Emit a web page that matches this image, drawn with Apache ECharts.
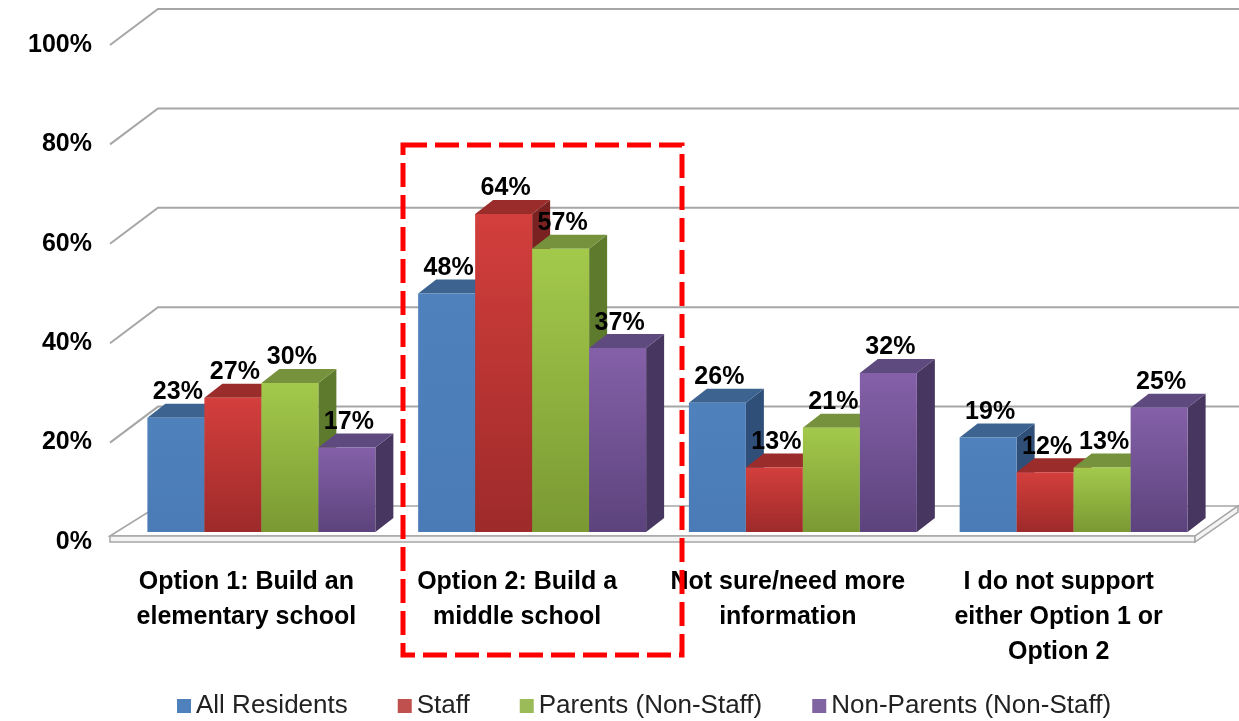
<!DOCTYPE html>
<html>
<head>
<meta charset="utf-8">
<script src="https://cdn.jsdelivr.net/npm/echarts@6/dist/echarts.min.js"></script>
<style>
  html, body { margin: 0; padding: 0; background: #fff; }
  #chart { width: 1239px; height: 721px; }
</style>
</head>
<body>
<div id="chart"></div>
<script>
// categories and values (percent)
const categories = [
  "Option 1: Build an\nelementary school",
  "Option 2: Build a\nmiddle school",
  "Not sure/need more\ninformation",
  "I do not support\neither Option 1 or\nOption 2"
]
const seriesNames = ["All Residents", "Staff", "Parents (Non-Staff)", "Non-Parents (Non-Staff)"]
const allResidents = [23, 48, 26, 19]
const staff = [27, 64, 13, 12]
const parents = [30, 57, 21, 13]
const nonParents = [17, 37, 32, 25]
const yTicks = [0, 20, 40, 60, 80, 100]

const seriesValues = [allResidents, staff, parents, nonParents]

// front / top / side colours per series
const palette = [
  { front: ["#4F81BD", "#4A7BB7"], top: "#3D6490", side: "#2F4F78", legend: "#4F81BD" },
  { front: ["#D33F3C", "#9E2A2A"], top: "#9A2C2B", side: "#7A2222", legend: "#C0504D" },
  { front: ["#A3C94B", "#7A9933"], top: "#76923C", side: "#5E7A2C", legend: "#9BBB59" },
  { front: ["#8460A8", "#5C437D"], top: "#5F4A80", side: "#47365F", legend: "#8064A2" }
]

const FONT = "'Liberation Sans', Arial, sans-serif"
const BAR_FRAC = 0.842
const DX = 18, DY = 14

const chart = echarts.init(document.getElementById("chart"))

function barGeom(api, si) {
  const ci = api.value(0)
  const v = api.value(1)
  const base = api.coord([ci, 0])
  const top = api.coord([ci, v])
  const band = api.size([1, 0])[0]
  const w = band * BAR_FRAC / 4
  const x0 = base[0] - 2 * w + si * w
  return { x0, w, yb: base[1], yt: top[1] }
}

function barRender(si) {
  return function (params, api) {
    const g = barGeom(api, si)
    const c = palette[si]
    return {
      type: "group",
      children: [
        {
          type: "polygon",
          shape: { points: [[g.x0 + g.w, g.yt], [g.x0 + g.w + DX, g.yt - DY], [g.x0 + g.w + DX, g.yb - DY], [g.x0 + g.w, g.yb]] },
          style: { fill: c.side }
        },
        {
          type: "polygon",
          shape: { points: [[g.x0, g.yt], [g.x0 + DX, g.yt - DY], [g.x0 + g.w + DX, g.yt - DY], [g.x0 + g.w, g.yt]] },
          style: { fill: c.top }
        },
        {
          type: "rect",
          shape: { x: g.x0, y: g.yt, width: g.w, height: g.yb - g.yt },
          style: {
            fill: new echarts.graphic.LinearGradient(0, 0, 0, 1, [
              { offset: 0, color: c.front[0] },
              { offset: 1, color: c.front[1] }
            ])
          }
        }
      ]
    }
  }
}

function labelRender(params, api) {
  const si = api.value(2)
  const g = barGeom(api, si)
  return {
    type: "text",
    style: {
      x: g.x0 + g.w / 2 + 2,
      y: g.yt - DY + 1,
      text: api.value(1) + "%",
      fill: "#000",
      font: "bold 25px " + FONT,
      align: "center",
      verticalAlign: "bottom"
    }
  }
}

// back wall grid lines, tick labels and floor plate
function wallRender(params, api) {
  const v = api.value(0)
  const y = api.coord([0, v])[1]
  const left = params.coordSys.x
  const W = api.getWidth()
  const fx = left - 16, bx = left + 32
  const fy = y + 10, by = y - 26
  const tick = {
    type: "text",
    style: {
      x: 92, y: y + 10,
      text: v + "%",
      fill: "#000",
      font: "bold 25px " + FONT,
      align: "right",
      verticalAlign: "middle"
    }
  }
  if (v === 0) {
    return {
      type: "group",
      children: [
        {
          type: "polygon",
          shape: { points: [[fx, fy - 6], [bx, by], [W - 1, by], [W - 44, fy - 6]] },
          style: { fill: "#fff", stroke: "#A6A6A6", lineWidth: 1.5 }
        },
        {
          type: "polygon",
          shape: { points: [[fx, fy - 6], [W - 44, fy - 6], [W - 44, fy], [fx, fy]] },
          style: { fill: "#F4F4F4", stroke: "#A6A6A6", lineWidth: 1.5 }
        },
        {
          type: "polygon",
          shape: { points: [[W - 44, fy - 6], [W - 1, by], [W - 1, by + 6], [W - 44, fy]] },
          style: { fill: "#F4F4F4", stroke: "#A6A6A6", lineWidth: 1.5 }
        },
        tick
      ]
    }
  }
  return {
    type: "group",
    children: [
      {
        type: "polyline",
        shape: { points: [[fx, fy], [bx, by], [W, by]] },
        style: { stroke: "#A6A6A6", lineWidth: 2, fill: null }
      },
      tick
    ]
  }
}

const labelData = []
seriesValues.forEach((vals, si) => {
  vals.forEach((v, ci) => labelData.push([ci, v, si]))
})

const series = [
  {
    type: "custom",
    renderItem: wallRender,
    data: yTicks.map(v => [v]),
    silent: true,
    z: 1
  }
]
seriesValues.forEach((vals, si) => {
  series.push({
    name: seriesNames[si],
    type: "custom",
    renderItem: barRender(si),
    itemStyle: { color: palette[si].legend },
    data: vals.map((v, ci) => [ci, v]),
    encode: { x: 0, y: 1 },
    z: 2 + si
  })
})
series.push({
  type: "custom",
  renderItem: labelRender,
  data: labelData,
  encode: { x: 0, y: 1 },
  silent: true,
  z: 10
})

const option = {
  animation: false,
  grid: { left: 126, right: 30, top: 35, bottom: 189 },
  xAxis: {
    type: "category",
    data: categories,
    axisLine: { show: false },
    axisTick: { show: false },
    axisLabel: {
      interval: 0,
      margin: 33,
      color: "#000",
      fontWeight: "bold",
      fontSize: 25,
      lineHeight: 35,
      fontFamily: FONT,
      padding: [0, 30, 0, 0]
    }
  },
  yAxis: {
    type: "value",
    min: 0,
    max: 100,
    interval: 20,
    axisLine: { show: false },
    axisTick: { show: false },
    splitLine: { show: false },
    axisLabel: { show: false }
  },
  legend: {
    data: seriesNames,
    top: 688,
    left: 172,
    icon: "rect",
    itemWidth: 14,
    itemHeight: 14,
    itemGap: 50,
    textStyle: {
      color: "#222",
      fontSize: 26,
      fontFamily: FONT
    }
  },
  graphic: [
    {
      type: "rect",
      shape: { x: 403, y: 145, width: 279, height: 510 },
      style: { fill: null, stroke: "#FF0000", lineWidth: 5, lineDash: [24, 8] },
      z: 100
    }
  ],
  series: series
}

chart.setOption(option)
</script>
</body>
</html>
